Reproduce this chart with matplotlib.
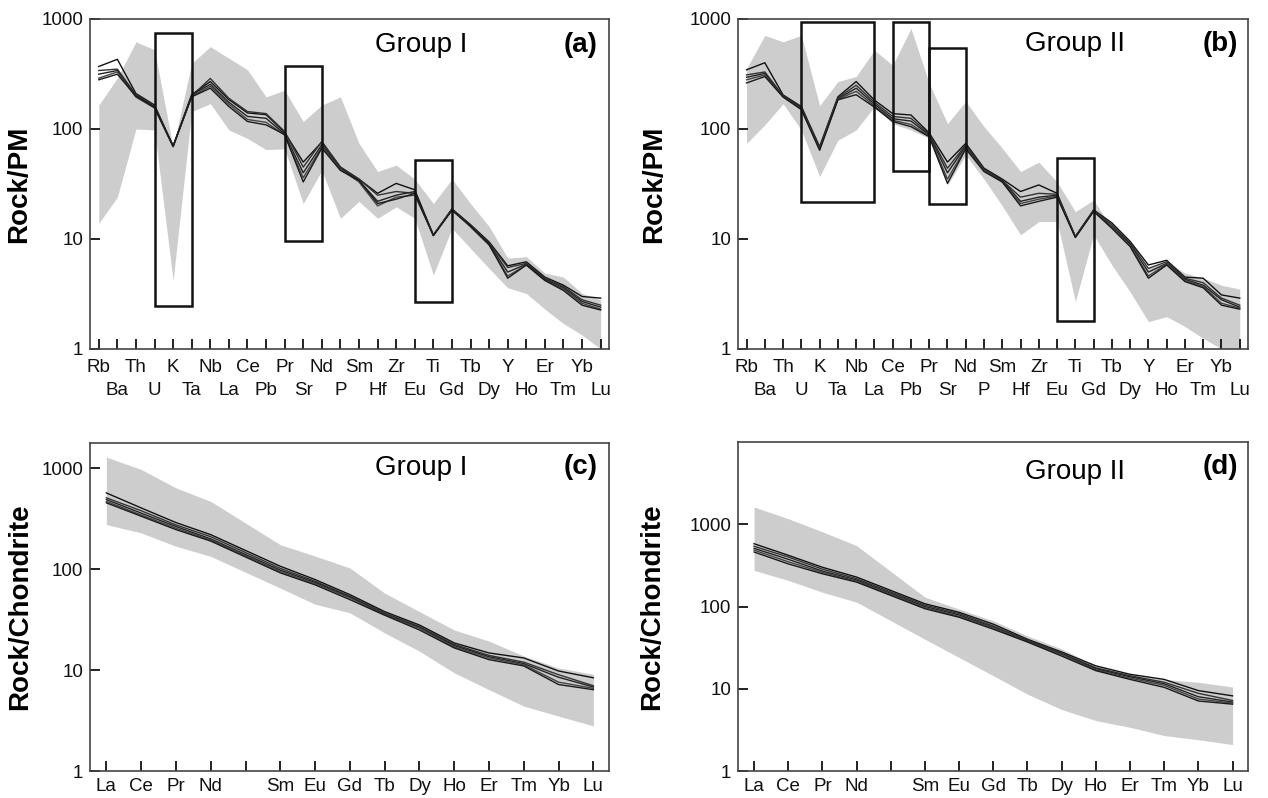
import numpy as np
import matplotlib
matplotlib.use("Agg")
import matplotlib.pyplot as plt
from matplotlib.patches import Rectangle

plt.rcParams['font.family'] = ['Liberation Sans', 'DejaVu Sans']

# element order on the x axes
pm_elements = ['Rb', 'Ba', 'Th', 'U', 'K', 'Ta', 'Nb', 'La', 'Ce', 'Pb', 'Pr', 'Sr', 'Nd', 'P',
               'Sm', 'Hf', 'Zr', 'Eu', 'Ti', 'Gd', 'Tb', 'Dy', 'Y', 'Ho', 'Er', 'Tm', 'Yb', 'Lu']
ree_ticks = ['La', 'Ce', 'Pr', 'Nd', '', 'Sm', 'Eu', 'Gd', 'Tb', 'Dy', 'Ho', 'Er', 'Tm', 'Yb', 'Lu']
ree_elements = ['La', 'Ce', 'Pr', 'Nd', 'Sm', 'Eu', 'Gd', 'Tb', 'Dy', 'Ho', 'Er', 'Tm', 'Yb', 'Lu']

# (a) Group I, primitive mantle normalised
a_samples = [
    [370, 430, 210, 165, 70, 205, 270, 185, 140, 135, 93, 50, 76, 45, 35, 26, 32, 28, 10.8, 18.8, 13.5, 9.4, 5.7, 6.2, 4.5, 3.8, 3.0, 2.9],
    [340, 350, 205, 160, 70, 200, 288, 190, 144, 138, 95, 45, 77, 45, 35, 25, 27, 26, 10.8, 18.6, 13.3, 9.2, 5.5, 6.0, 4.4, 3.7, 2.8, 2.5],
    [315, 340, 200, 158, 69, 204, 255, 175, 130, 125, 90, 40, 72, 44, 34, 22, 25, 27, 10.9, 18.6, 13.0, 9.0, 5.0, 5.9, 4.3, 3.6, 2.7, 2.4],
    [290, 330, 195, 155, 69, 198, 245, 168, 122, 115, 88, 36, 69, 43, 33, 20, 24, 25, 10.9, 18.4, 12.9, 8.8, 4.6, 5.8, 4.2, 3.5, 2.6, 2.3],
    [280, 315, 198, 157, 70, 196, 235, 160, 117, 109, 89, 33, 67, 42, 34, 21, 23, 26, 10.7, 18.2, 13.1, 8.9, 4.4, 5.8, 4.2, 3.4, 2.5, 2.26],
]
a_upper = [165, 290, 620, 525, 68, 395, 560, 440, 345, 196, 225, 117, 165, 196, 74, 41, 47, 35, 21, 35, 21, 13, 6.7, 6.9, 4.9, 4.5, 3.2, 2.8]
a_lower = [13.9, 24, 100, 98, 4.2, 144, 170, 98, 82, 65, 66, 21, 42, 15.4, 22, 15.4, 19.6, 15.4, 4.7, 12.5, 8.2, 5.4, 3.6, 3.2, 2.3, 1.7, 1.34, 1.0]
# boxes: (first element, last element, bottom, top)
a_boxes = [('U', 'Ta', 2.45, 750), ('Pr', 'Nd', 9.5, 370), ('Eu', 'Gd', 2.7, 52)]

# (b) Group II, primitive mantle normalised
b_samples = [
    [345, 400, 204, 160, 69, 196, 270, 183, 138, 134, 92, 50, 74, 44, 35, 27, 31, 26, 10.5, 18.4, 14.0, 9.5, 5.8, 6.4, 4.5, 4.4, 3.1, 2.9],
    [310, 330, 200, 158, 68, 192, 250, 175, 130, 125, 90, 44, 72, 43, 34, 24, 26, 25.5, 10.5, 18.2, 13.5, 9.2, 5.4, 6.2, 4.4, 4.0, 2.9, 2.5],
    [295, 320, 198, 155, 66, 188, 235, 168, 124, 118, 88, 40, 70, 42, 34, 22, 24, 25, 10.5, 18.0, 13.0, 9.0, 5.0, 6.0, 4.3, 3.8, 2.8, 2.4],
    [280, 310, 196, 152, 65, 186, 220, 162, 120, 110, 86, 35, 68, 42, 33, 21, 23, 24.5, 10.4, 18.0, 12.8, 8.7, 4.6, 5.9, 4.2, 3.7, 2.6, 2.35],
    [262, 300, 195, 150, 64, 184, 205, 158, 117, 105, 85, 32, 66, 41, 33, 20, 22, 24, 10.3, 17.8, 12.5, 8.5, 4.4, 5.8, 4.1, 3.6, 2.5, 2.3],
]
b_upper = [355, 710, 620, 710, 163, 270, 300, 520, 380, 820, 260, 112, 178, 105, 67, 41, 50, 33, 17.7, 22.6, 12.5, 8.2, 5.4, 6.2, 4.9, 4.4, 3.8, 3.5]
b_lower = [74, 109, 170, 98, 37, 79, 98, 160, 112, 98, 82, 31, 58, 35, 20, 10.9, 14.4, 14.4, 2.7, 10.9, 5.8, 3.3, 1.77, 1.97, 1.6, 1.25, 1.0, 1.0]
b_boxes = [('U', 'La', 21.9, 930), ('Ce', 'Pr', 41.5, 930), ('Pr', 'Nd', 21, 550), ('Eu', 'Gd', 1.8, 54)]

# (c) Group I, chondrite normalised
c_samples = [
    [570, 405, 290, 220, 107, 79, 56, 38, 28, 18.6, 14.8, 13.2, 9.8, 8.4],
    [510, 380, 275, 210, 102, 76, 54, 37, 27, 18.0, 14.0, 12.0, 9.0, 7.0],
    [490, 360, 265, 200, 98, 74, 53, 36, 26.5, 17.5, 13.6, 11.6, 8.5, 6.8],
    [470, 345, 255, 195, 95, 72, 52, 35.5, 26, 17.0, 13.2, 11.3, 7.6, 6.6],
    [455, 335, 247, 190, 92, 70, 50, 35, 25, 16.6, 12.7, 11.0, 7.2, 6.4],
]
c_upper = [1290, 975, 640, 470, 175, 135, 103, 58, 38, 25, 19.4, 13.8, 10.5, 9.1]
c_lower = [277, 229, 169, 134, 65, 45, 37, 23.4, 15.4, 9.4, 6.4, 4.4, 3.5, 2.8]

# (d) Group II, chondrite normalised
d_samples = [
    [580, 420, 300, 228, 108, 85, 61, 40, 28, 19.0, 15.0, 13.0, 9.5, 8.2],
    [540, 400, 285, 218, 104, 82, 58, 39, 27, 18.0, 14.4, 12.0, 8.8, 7.2],
    [510, 375, 270, 210, 100, 79, 56, 38, 26.5, 17.5, 14.0, 11.5, 8.0, 6.9],
    [485, 350, 260, 204, 97, 76, 55, 37.5, 26, 17.0, 13.5, 11.0, 7.5, 6.7],
    [460, 330, 250, 198, 94, 74, 53, 37, 25, 16.6, 13.0, 10.4, 7.1, 6.5],
]
d_upper = [1620, 1170, 810, 550, 130, 93, 67, 44, 30.5, 19, 15, 13, 12, 10.5]
d_lower = [275, 208, 149, 113, 40, 24, 14.4, 8.6, 5.6, 4.1, 3.4, 2.7, 2.4, 2.1]

line_colors = ['#111111', '#333333', '#222222', '#444444', '#1a1a1a']

fig = plt.figure(figsize=(12.68, 7.98), dpi=100)
ax_a = fig.add_axes([0.0710, 0.5627, 0.4093, 0.4135])
ax_b = fig.add_axes([0.5820, 0.5627, 0.4022, 0.4135])
ax_c = fig.add_axes([0.0710, 0.0338, 0.4093, 0.4110])
ax_d = fig.add_axes([0.5820, 0.0338, 0.4022, 0.4123])


def style(ax, ylabel, labx):
    ax.set_yscale('log')
    for s in ax.spines.values():
        s.set_color('#444444')
        s.set_linewidth(1.2)
    ax.tick_params(axis='both', which='major', direction='in', length=7, width=1.3,
                   labelsize=13.5, colors='#111111', pad=5)
    ax.tick_params(axis='y', which='minor', left=False, right=False)
    ax.set_yticks([1, 10, 100, 1000])
    ax.set_yticklabels(['1', '10', '100', '1000'])
    ax.set_ylabel(ylabel, fontsize=20, fontweight='bold')
    ax.yaxis.set_label_coords(labx, 0.5)


def pm_panel(ax, samples, upper, lower, boxes, title, tag, tx, ty, labx):
    x = np.arange(len(pm_elements))
    ax.fill_between(x, lower, upper, color='#cdcdcd', linewidth=0, zorder=1)
    for i, s in enumerate(samples):
        ax.plot(x, s, color=line_colors[i], lw=1.0, zorder=3)
    for e1, e2, lo, hi in boxes:
        x1 = pm_elements.index(e1)
        x2 = pm_elements.index(e2)
        ax.add_patch(Rectangle((x1, lo), x2 - x1, hi - lo, fill=False,
                               edgecolor='#111111', lw=1.8, zorder=4))
    ax.set_xlim(-0.47, 27.45)
    ax.set_ylim(1, 1000)
    style(ax, 'Rock/PM', labx)
    ax.set_xticks(x)
    ax.set_xticklabels([])
    # staggered element names, two rows
    for i, el in enumerate(pm_elements):
        yrow = -0.055 if i % 2 == 0 else -0.125
        ax.text(i, yrow, el, transform=ax.get_xaxis_transform(), ha='center', va='center',
                fontsize=13.5, color='#111111')
    ax.text(tx, ty, title, transform=ax.transAxes, ha='center', va='center', fontsize=20)
    ax.text(0.945, ty, tag, transform=ax.transAxes, ha='center', va='center',
            fontsize=20, fontweight='bold')


def ree_panel(ax, samples, upper, lower, top, title, tag, tx, ty, tagy, labx):
    x = np.array([0, 1, 2, 3, 5, 6, 7, 8, 9, 10, 11, 12, 13, 14])
    ax.fill_between(x, lower, upper, color='#cdcdcd', linewidth=0, zorder=1)
    for i, s in enumerate(samples):
        ax.plot(x, s, color=line_colors[i], lw=1.0, zorder=3)
    ax.set_xlim(-0.47, 14.45)
    ax.set_ylim(1, top)
    style(ax, 'Rock/Chondrite', labx)
    ax.set_xticks(np.arange(len(ree_ticks)))
    ax.set_xticklabels(ree_ticks)
    ax.text(tx, ty, title, transform=ax.transAxes, ha='center', va='center', fontsize=20)
    ax.text(0.945, tagy, tag, transform=ax.transAxes, ha='center', va='center',
            fontsize=20, fontweight='bold')


pm_panel(ax_a, a_samples, a_upper, a_lower, a_boxes, 'Group I', '(a)', 0.638, 0.921, -0.112)
pm_panel(ax_b, b_samples, b_upper, b_lower, b_boxes, 'Group II', '(b)', 0.661, 0.925, -0.139)
ree_panel(ax_c, c_samples, c_upper, c_lower, 1780, 'Group I', '(c)', 0.638, 0.924, 0.927, -0.110)
ree_panel(ax_d, d_samples, d_upper, d_lower, 10000, 'Group II', '(d)', 0.661, 0.909, 0.924, -0.143)

fig.savefig('out.png', dpi=100)
